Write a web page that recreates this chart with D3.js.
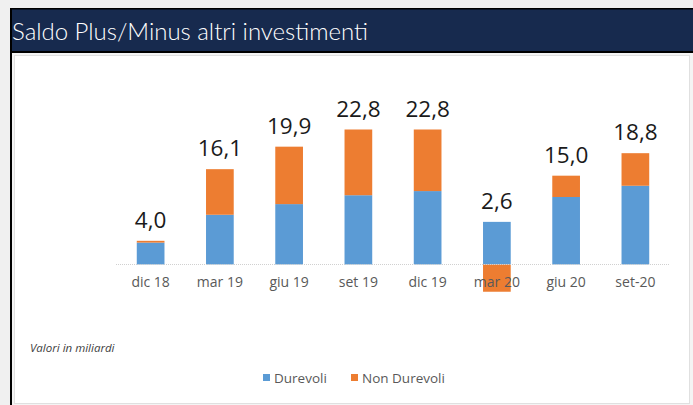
<!DOCTYPE html>
<html>
<head>
<meta charset="utf-8">
<script src="https://cdn.jsdelivr.net/npm/d3@7"></script>
<style>
  body { margin: 0; background: #f0f0f0; }
  svg { display: block; }
</style>
</head>
<body>
<svg id="chart" width="693" height="405"></svg>
<script>
let periods = ['dic 18', 'mar 19', 'giu 19', 'set 19', 'dic 19', 'mar 20', 'giu 20', 'set-20'];
let durevoli = [3.7, 8.4, 10.2, 11.7, 12.4, 7.2, 11.4, 13.3];
let nonDurevoli = [0.3, 7.7, 9.7, 11.1, 10.4, -4.6, 3.6, 5.5];
let totals = ['4,0', '16,1', '19,9', '22,8', '22,8', '2,6', '15,0', '18,8'];
let seriesNames = ['Durevoli', 'Non Durevoli'];
let colors = ['#5b9bd5', '#ed7d31'];

let svg = d3.select('#chart');

// frame: black border, navy title bar, white panel
svg.append('rect').attr('x', 10).attr('y', 8).attr('width', 683).attr('height', 397).attr('fill', '#000');
svg.append('rect').attr('x', 12).attr('y', 9.5).attr('width', 681).attr('height', 41.5).attr('fill', '#172a4e');
svg.append('rect').attr('x', 12).attr('y', 53).attr('width', 681).attr('height', 352).attr('fill', '#f4f4f4');
svg.append('rect').attr('x', 14.5).attr('y', 55.5).attr('width', 675).attr('height', 348)
    .attr('fill', '#fff').attr('stroke', '#e0e0e0').attr('stroke-width', 1);

svg.append('text')
    .attr('x', 12).attr('y', 40)
    .attr('font-family', 'Lato, sans-serif')
    .attr('font-weight', 300)
    .attr('font-size', '24px')
    .attr('textLength', 356)
    .attr('fill', '#fff')
    .text('Saldo Plus/Minus altri investimenti');

let x = d3.scaleBand().domain(periods).range([116, 670]).paddingInner(0.6).paddingOuter(0.3);
let y = d3.scaleLinear().domain([0, 22.8]).range([264.5, 129.5]);

let g = svg.append('g');

// stacked bars (negatives stack downward from zero)
periods.forEach(function (p, i) {
    let vals = [durevoli[i], nonDurevoli[i]];
    let pos = 0, neg = 0;
    vals.forEach(function (v, k) {
        let y0, y1;
        if (v >= 0) { y0 = pos; y1 = pos + v; pos = y1; }
        else { y0 = neg + v; y1 = neg; neg = y0; }
        g.append('rect')
            .attr('x', x(p))
            .attr('width', x.bandwidth())
            .attr('y', y(y1))
            .attr('height', y(y0) - y(y1))
            .attr('fill', colors[k]);
    });
    g.append('text')
        .attr('x', x(p) + x.bandwidth() / 2)
        .attr('y', y(pos) - 13)
        .attr('text-anchor', 'middle')
        .attr('font-family', 'Open Sans, sans-serif')
        .attr('font-size', '22.5px')
        .attr('fill', '#1a1a1a')
        .text(totals[i]);
});

// zero line
g.append('line')
    .attr('x1', 116).attr('x2', 670)
    .attr('y1', y(0)).attr('y2', y(0))
    .attr('stroke', '#d0d0d0').attr('stroke-width', 1)
    .attr('stroke-dasharray', '1 1');

// category axis
let axis = d3.axisBottom(x).tickSize(0).tickPadding(0);
let ax = svg.append('g').attr('transform', 'translate(0,' + 277 + ')').call(axis);
ax.select('.domain').remove();
ax.selectAll('text')
    .attr('dy', '0.71em')
    .attr('font-family', 'Open Sans, sans-serif')
    .attr('font-size', '14px')
    .attr('fill', '#595959');

svg.append('text')
    .attr('x', 30).attr('y', 352)
    .attr('font-family', 'Open Sans, sans-serif')
    .attr('font-style', 'italic')
    .attr('font-size', '11.5px')
    .attr('fill', '#404040')
    .text('Valori in miliardi');

// legend
let legendX = [263, 351];
seriesNames.forEach(function (n, k) {
    svg.append('rect')
        .attr('x', legendX[k]).attr('y', 374)
        .attr('width', 7).attr('height', 7)
        .attr('fill', colors[k]);
    svg.append('text')
        .attr('x', legendX[k] + 11).attr('y', 383)
        .attr('font-family', 'Open Sans, sans-serif')
        .attr('font-size', '13.5px')
        .attr('fill', '#595959')
        .text(n);
});
</script>
</body>
</html>
